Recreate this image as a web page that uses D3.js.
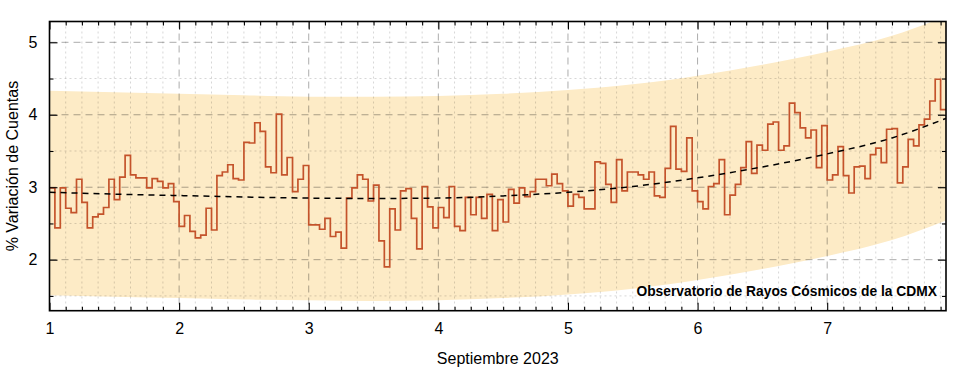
<!DOCTYPE html>
<html>
<head>
<meta charset="utf-8">
<script src="https://cdn.jsdelivr.net/npm/d3@7"></script>
<style>
  body{margin:0;background:#fff;}
  svg text{font-family:"Liberation Sans",Arial,sans-serif;fill:#000;}
</style>
</head>
<body>
<svg id="chart" width="958" height="374"></svg>
<script>
// hourly % variation, starting Sept 1 00:00
var counts = [
  2.99,2.44,2.99,2.71,2.65,3.11,2.79,2.44,2.59,2.63,2.72,3.11,
  2.83,3.14,3.44,3.17,3.13,3.13,2.99,3.12,3.08,2.99,3.05,2.80,
  2.46,2.61,2.39,2.30,2.34,2.71,2.41,3.16,3.21,3.31,3.12,3.10,
  3.62,3.61,3.89,3.77,3.28,3.20,4.01,3.17,3.41,2.94,3.11,3.30,
  2.48,2.48,2.42,2.57,2.32,2.38,2.16,2.85,2.99,3.17,3.11,2.81,
  3.03,2.26,1.90,2.70,2.41,2.95,2.98,2.57,2.15,3.01,2.73,2.44,
  2.72,2.58,3.01,2.46,2.40,2.86,2.62,2.86,2.57,2.90,2.40,2.83,
  2.52,2.97,2.78,2.99,2.87,2.94,3.11,3.11,3.02,3.18,3.05,2.95,
  2.74,2.90,2.86,2.70,2.70,3.35,3.33,3.04,2.79,3.38,2.95,3.21,
  3.21,3.17,3.11,3.21,2.88,2.86,3.26,3.84,3.25,3.22,3.68,2.95,
  2.80,2.70,3.01,3.05,3.38,2.62,2.89,3.04,3.27,3.63,3.19,3.58,
  3.51,3.87,3.90,3.51,3.57,4.16,4.03,3.82,3.68,3.79,3.27,3.85,
  3.10,3.17,3.56,3.16,2.92,3.28,3.29,3.12,3.45,3.54,3.34,3.80,
  3.81,3.06,3.28,3.66,3.57,3.86,3.94,4.19,4.49,4.07
];

// fitted trend and its band, read at half days
var trendDays = [1,1.5,2,2.5,3,3.5,4,4.5,5,5.5,6,6.5,7,7.5,7.9167];
var trend     = [2.93,2.905,2.885,2.865,2.85,2.845,2.85,2.88,2.93,3.01,3.13,3.28,3.46,3.68,3.95];
var bandHi    = [4.33,4.31,4.29,4.27,4.25,4.25,4.26,4.29,4.34,4.42,4.54,4.69,4.87,5.09,5.36];
var bandLo    = [1.51,1.49,1.47,1.45,1.44,1.43,1.44,1.47,1.52,1.60,1.72,1.87,2.05,2.27,2.54];

var dayTicks = [1,2,3,4,5,6,7];
var valTicks = [2,3,4,5];

(function(){

var svg = d3.select('#chart');
var pL = 49.5, pT = 21.5, pR = 946, pB = 310.7;

var x = d3.scaleLinear().domain([1, 1 + counts.length/24]).range([pL, pR]);
var y = d3.scaleLinear().domain([1.296, 5.287]).range([pB, pT]);

svg.append('defs').append('clipPath').attr('id','plotclip')
   .append('rect').attr('x',pL).attr('y',pT)
   .attr('width',pR-pL).attr('height',pB-pT);

var plot = svg.append('g').attr('clip-path','url(#plotclip)');

//band
var bandData = trendDays.map(function(d,i){ return {d:d, hi:bandHi[i], lo:bandLo[i]}; });
plot.append('path')
    .datum(bandData)
    .attr('fill','#fdebc6')
    .attr('d', d3.area()
        .x(function(d){ return x(d.d); })
        .y0(function(d){ return y(d.lo); })
        .y1(function(d){ return y(d.hi); })
        .curve(d3.curveMonotoneX));

//grid
var minorX = d3.range(1, 7.95, 0.125).filter(function(d){ return Math.abs(d - Math.round(d)) > 1e-6; });
var minorY = d3.range(1.5, 5.3, 0.5).filter(function(d){ return d % 1 !== 0; });

plot.selectAll('.gx-minor').data(minorX).enter().append('line')
    .attr('x1',function(d){return x(d);}).attr('x2',function(d){return x(d);})
    .attr('y1',pT).attr('y2',pB)
    .attr('stroke','rgba(0,0,0,0.16)').attr('stroke-dasharray','2,3');
plot.selectAll('.gy-minor').data(minorY).enter().append('line')
    .attr('y1',function(d){return y(d);}).attr('y2',function(d){return y(d);})
    .attr('x1',pL).attr('x2',pR)
    .attr('stroke','rgba(0,0,0,0.16)').attr('stroke-dasharray','2,3');
plot.selectAll('.gx').data(dayTicks.slice(1)).enter().append('line')
    .attr('x1',function(d){return x(d);}).attr('x2',function(d){return x(d);})
    .attr('y1',pT).attr('y2',pB)
    .attr('stroke','rgba(0,0,0,0.33)').attr('stroke-dasharray','7,5');
plot.selectAll('.gy').data(valTicks).enter().append('line')
    .attr('y1',function(d){return y(d);}).attr('y2',function(d){return y(d);})
    .attr('x1',pL).attr('x2',pR)
    .attr('stroke','rgba(0,0,0,0.33)').attr('stroke-dasharray','7,5');

//step line
var stepPts = counts.map(function(v,i){ return [1 + i/24, v]; });
stepPts.push([1 + counts.length/24, counts[counts.length-1]]);
plot.append('path')
    .datum(stepPts)
    .attr('fill','none')
    .attr('stroke','#c4532b')
    .attr('stroke-width',1.7)
    .attr('d', d3.line()
        .x(function(d){ return x(d[0]); })
        .y(function(d){ return y(d[1]); })
        .curve(d3.curveStepAfter));

//trend
plot.append('path')
    .datum(trendDays.map(function(d,i){ return [d, trend[i]]; }))
    .attr('fill','none')
    .attr('stroke','#000')
    .attr('stroke-width',1.5)
    .attr('stroke-dasharray','6,5')
    .attr('d', d3.line()
        .x(function(d){ return x(d[0]); })
        .y(function(d){ return y(d[1]); })
        .curve(d3.curveMonotoneX));

//axes: ticks inward on all four sides
var axB = d3.axisBottom(x).tickValues(dayTicks).tickSize(-8).tickPadding(12).tickFormat(d3.format('d'));
var axBm = d3.axisBottom(x).tickValues(minorX).tickSize(-4).tickFormat('');
var axT = d3.axisTop(x).tickValues(dayTicks).tickSize(-8).tickFormat('');
var axTm = d3.axisTop(x).tickValues(minorX).tickSize(-4).tickFormat('');
var axL = d3.axisLeft(y).tickValues(valTicks).tickSize(-8).tickPadding(12).tickFormat(d3.format('d'));
var axLm = d3.axisLeft(y).tickValues(minorY).tickSize(-4).tickFormat('');
var axR = d3.axisRight(y).tickValues(valTicks).tickSize(-8).tickFormat('');
var axRm = d3.axisRight(y).tickValues(minorY).tickSize(-4).tickFormat('');

function put(ax, tr){
  var g = svg.append('g').attr('transform', tr).call(ax);
  g.select('.domain').remove();
  g.selectAll('line').attr('stroke','#000').attr('stroke-width',1.1);
  g.selectAll('text').style('font-size','16px');
  return g;
}
put(axB, 'translate(0,' + pB + ')');
put(axBm, 'translate(0,' + pB + ')');
put(axT, 'translate(0,' + pT + ')');
put(axTm, 'translate(0,' + pT + ')');
put(axL, 'translate(' + pL + ',0)');
put(axLm, 'translate(' + pL + ',0)');
put(axR, 'translate(' + pR + ',0)');
put(axRm, 'translate(' + pR + ',0)');

svg.append('rect')
   .attr('x',pL).attr('y',pT)
   .attr('width',pR-pL).attr('height',pB-pT)
   .attr('fill','none').attr('stroke','#000').attr('stroke-width',1.6);

//labels
svg.append('text')
   .attr('x', (pL+pR)/2).attr('y', 364)
   .attr('text-anchor','middle')
   .style('font-size','16px')
   .text('Septiembre 2023');

svg.append('text')
   .attr('transform','translate(18,' + ((pT+pB)/2) + ') rotate(-90)')
   .attr('text-anchor','middle')
   .style('font-size','16px')
   .text('% Variación de Cuentas');

svg.append('text')
   .attr('x', 937).attr('y', 296)
   .attr('text-anchor','end')
   .style('font-size','13.8px')
   .style('font-weight','bold')
   .text('Observatorio de Rayos Cósmicos de la CDMX');

})();
</script>
</body>
</html>
